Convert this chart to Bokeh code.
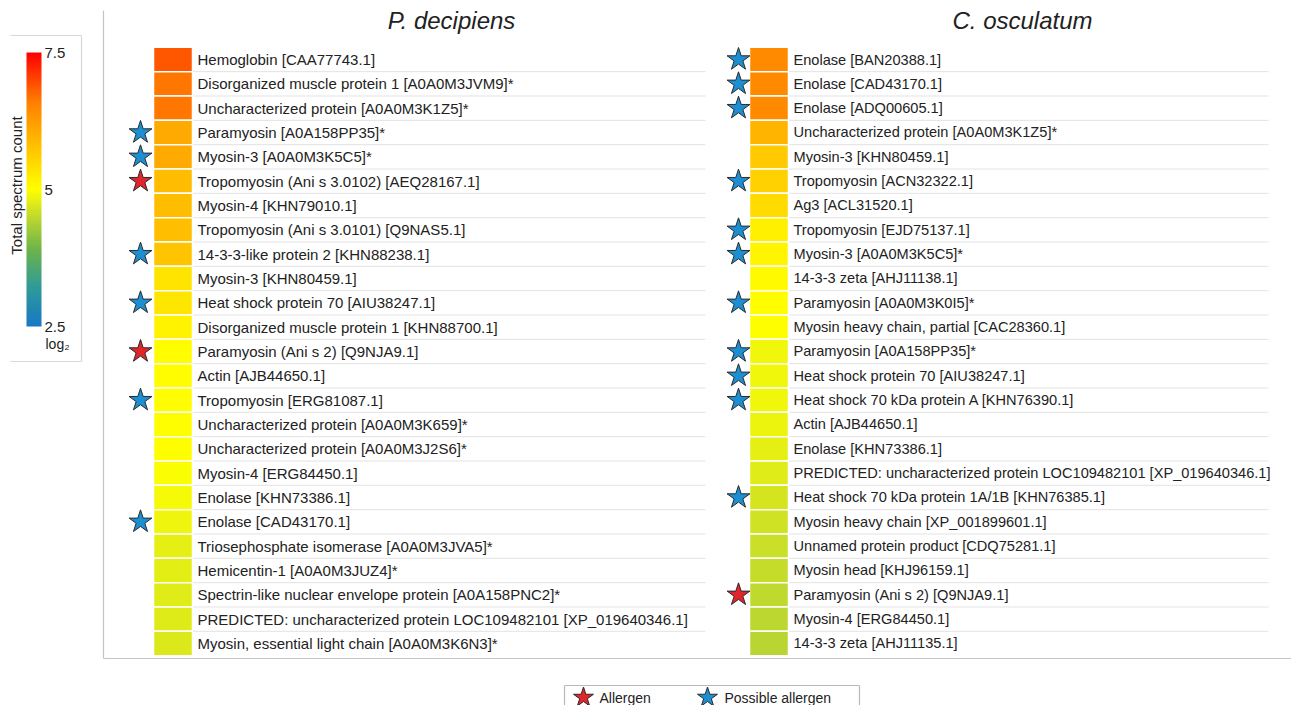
import numpy as np
from bokeh.plotting import figure
from bokeh.models import Range1d, LinearColorMapper, ColorBar, FixedTicker, ColumnDataSource
from bokeh.transform import transform
from bokeh.core.properties import value
from bokeh.embed import file_html
from bokeh.resources import INLINE

# ---------------- data ----------------
titles = ["P. decipiens", "C. osculatum"]

left_labels = [
    "Hemoglobin [CAA77743.1]",
    "Disorganized muscle protein 1 [A0A0M3JVM9]*",
    "Uncharacterized protein [A0A0M3K1Z5]*",
    "Paramyosin [A0A158PP35]*",
    "Myosin-3 [A0A0M3K5C5]*",
    "Tropomyosin (Ani s 3.0102) [AEQ28167.1]",
    "Myosin-4 [KHN79010.1]",
    "Tropomyosin (Ani s 3.0101) [Q9NAS5.1]",
    "14-3-3-like protein 2 [KHN88238.1]",
    "Myosin-3 [KHN80459.1]",
    "Heat shock protein 70 [AIU38247.1]",
    "Disorganized muscle protein 1 [KHN88700.1]",
    "Paramyosin (Ani s 2) [Q9NJA9.1]",
    "Actin [AJB44650.1]",
    "Tropomyosin [ERG81087.1]",
    "Uncharacterized protein [A0A0M3K659]*",
    "Uncharacterized protein [A0A0M3J2S6]*",
    "Myosin-4 [ERG84450.1]",
    "Enolase [KHN73386.1]",
    "Enolase [CAD43170.1]",
    "Triosephosphate isomerase [A0A0M3JVA5]*",
    "Hemicentin-1 [A0A0M3JUZ4]*",
    "Spectrin-like nuclear envelope protein [A0A158PNC2]*",
    "PREDICTED: uncharacterized protein LOC109482101 [XP_019640346.1]",
    "Myosin, essential light chain [A0A0M3K6N3]*",
]
left_values = [6.88, 6.65, 6.65, 6.06, 6.06, 5.85, 5.83, 5.82, 5.75, 5.35, 5.33, 5.15,
               5.03, 5.02, 5.02, 5.01, 5.0, 4.97, 4.94, 4.88, 4.80, 4.78, 4.76, 4.74, 4.72]
# 0 = none, 1 = allergen, 2 = possible allergen
left_flags = [0, 0, 0, 2, 2, 1, 0, 0, 2, 0, 2, 0, 1, 0, 2, 0, 0, 0, 0, 2, 0, 0, 0, 0, 0]

right_labels = [
    "Enolase [BAN20388.1]",
    "Enolase [CAD43170.1]",
    "Enolase [ADQ00605.1]",
    "Uncharacterized protein [A0A0M3K1Z5]*",
    "Myosin-3 [KHN80459.1]",
    "Tropomyosin [ACN32322.1]",
    "Ag3 [ACL31520.1]",
    "Tropomyosin [EJD75137.1]",
    "Myosin-3 [A0A0M3K5C5]*",
    "14-3-3 zeta [AHJ11138.1]",
    "Paramyosin [A0A0M3K0I5]*",
    "Myosin heavy chain, partial [CAC28360.1]",
    "Paramyosin [A0A158PP35]*",
    "Heat shock protein 70 [AIU38247.1]",
    "Heat shock 70 kDa protein A [KHN76390.1]",
    "Actin [AJB44650.1]",
    "Enolase [KHN73386.1]",
    "PREDICTED: uncharacterized protein LOC109482101 [XP_019640346.1]",
    "Heat shock 70 kDa protein 1A/1B [KHN76385.1]",
    "Myosin heavy chain [XP_001899601.1]",
    "Unnamed protein product [CDQ75281.1]",
    "Myosin head [KHJ96159.1]",
    "Paramyosin (Ani s 2) [Q9NJA9.1]",
    "Myosin-4 [ERG84450.1]",
    "14-3-3 zeta [AHJ11135.1]",
]
right_values = [6.46, 6.46, 6.45, 5.92, 5.65, 5.58, 5.45, 5.18, 5.12, 5.07, 5.03, 5.0,
                4.9, 4.9, 4.89, 4.86, 4.8, 4.76, 4.66, 4.62, 4.58, 4.55, 4.5, 4.47, 4.44]
right_flags = [2, 2, 2, 0, 0, 2, 0, 2, 2, 0, 2, 0, 2, 2, 2, 0, 0, 0, 2, 0, 0, 0, 1, 0, 0]

cbar_ticks = [2.5, 5.0, 7.5]
cbar_tick_labels = ["2.5", "5", "7.5"]
cbar_title = "Total spectrum count"
cbar_unit = "log\u2082"
legend_labels = ["Allergen", "Possible allergen"]

# ---------------- style / layout ----------------
W, H = 1291, 705
FONT = "Liberation Sans"
TXT = "#222222"
STAR_COLORS = {1: "#e0262b", 2: "#1b8fd2"}
anchors = [(2.5, "#1878c6"), (3.2, "#2f9a9a"), (3.9, "#6cb44a"), (4.5, "#c0d92e"),
           (5.0, "#ffff00"), (5.8, "#ffc000"), (6.6, "#ff7f00"), (7.5, "#ff0000")]


def hex2rgb(h):
    return np.array([int(h[i:i + 2], 16) for i in (1, 3, 5)], dtype=float)


pal = []
vals = np.linspace(2.5, 7.5, 256)
av = [a[0] for a in anchors]
ac = np.array([hex2rgb(a[1]) for a in anchors])
for v in vals:
    rgb = [np.interp(v, av, ac[:, k]) for k in range(3)]
    pal.append("#%02x%02x%02x" % tuple(int(round(c)) for c in rgb))
mapper = LinearColorMapper(palette=pal, low=2.5, high=7.5)

ROW0 = 59.0      # pixel (from top) of first row centre
ROWH = 24.333    # pixel height of one row
y_top = -ROW0 / ROWH
y_bot = (H - ROW0) / ROWH

p = figure(width=W, height=H, output_backend="svg", toolbar_location=None,
           x_range=Range1d(0, W), y_range=Range1d(y_bot, y_top),
           x_axis_type=None, y_axis_type=None, min_border=0,
           min_border_left=0, min_border_right=0, min_border_top=0, min_border_bottom=0)
p.outline_line_color = None
p.grid.visible = False
p.extra_y_ranges = {"px": Range1d(H, 0)}

# frame lines
p.segment(x0=[103, 103], y0=[10, 658], x1=[103, W], y1=[658, 658], line_color="#c4c4c4",
          line_width=1.2, y_range_name="px")
# colour bar box
p.segment(x0=[10, 81, 10], y0=[35, 35, 361], x1=[81, 81, 81], y1=[35, 361, 361],
          line_color="#d8d8d8", line_width=1.2, y_range_name="px")

panels = [
    (left_labels, left_values, left_flags, 153, 192, 197, 140, 705, "15px"),
    (right_labels, right_values, right_flags, 749, 788, 793, 738, 1268, "14.6px"),
]
for labels, values, flags, cx0, cx1, tx, sx, sep_end, fs in panels:
    n = len(labels)
    rows = list(range(n))
    b = [i + 0.5 for i in range(n - 1)]
    p.segment(x0=[cx1] * len(b), y0=b, x1=[sep_end] * len(b), y1=b,
              line_color="#e3e3e3", line_width=1)
    src = ColumnDataSource(dict(y=rows, v=values, label=labels))
    p.rect(x=(cx0 + cx1) / 2, y="y", width=cx1 - cx0, height=1, source=src,
           fill_color=transform("v", mapper), line_color="white", line_width=1.5)
    p.text(x=tx, y="y", text="label", source=src, text_baseline="middle",
           text_font=value(FONT), text_font_size=fs, text_color=TXT)
    sy = [i for i, f in enumerate(flags) if f]
    sc = [STAR_COLORS[flags[i]] for i in sy]
    p.scatter(x=[sx] * len(sy), y=sy, marker="star", size=24, fill_color=sc,
              line_color="#2b2b2b", line_width=1)

for t, tx in zip(titles, [451, 1022]):
    p.text(x=[tx], y=[20], text=[t], y_range_name="px", text_align="center",
           text_baseline="middle", text_font=value(FONT), text_font_style="italic",
           text_font_size="24px", text_color=TXT)

# colour bar
cb = ColorBar(color_mapper=mapper, ticker=FixedTicker(ticks=cbar_ticks),
              major_label_overrides={t: l for t, l in zip(cbar_ticks, cbar_tick_labels)},
              width=15, height=274, location=(26, H - 326), padding=0,
              orientation="vertical", title=None, label_standoff=3,
              major_tick_line_color=None, minor_tick_line_color=None,
              bar_line_color=None, border_line_color=None, background_fill_alpha=0,
              major_label_text_font=FONT, major_label_text_font_size="15px",
              major_label_text_color=TXT)
p.add_layout(cb, "center")
p.text(x=[16], y=[185], text=[cbar_title], y_range_name="px", angle=np.pi / 2,
       text_align="center", text_baseline="middle", text_font=value(FONT),
       text_font_size="15px", text_color=TXT)
p.text(x=[45], y=[343], text=[cbar_unit], y_range_name="px", text_align="left",
       text_baseline="middle", text_font=value(FONT), text_font_size="14px", text_color=TXT)

# legend box
p.segment(x0=[564, 564, 859], y0=[685, 685, 685], x1=[859, 564, 859], y1=[685, H, H],
          line_color="#b8b8b8", line_width=1.2, y_range_name="px")
p.scatter(x=[583, 707], y=[697, 697], marker="star", size=21,
          fill_color=[STAR_COLORS[1], STAR_COLORS[2]], line_color="#2b2b2b",
          line_width=1, y_range_name="px")
p.text(x=[599, 724], y=[697, 697], text=legend_labels, y_range_name="px",
       text_baseline="middle", text_font=value(FONT), text_font_size="14px",
       text_color=TXT)

open("out.html", "w").write(file_html(p, INLINE))
